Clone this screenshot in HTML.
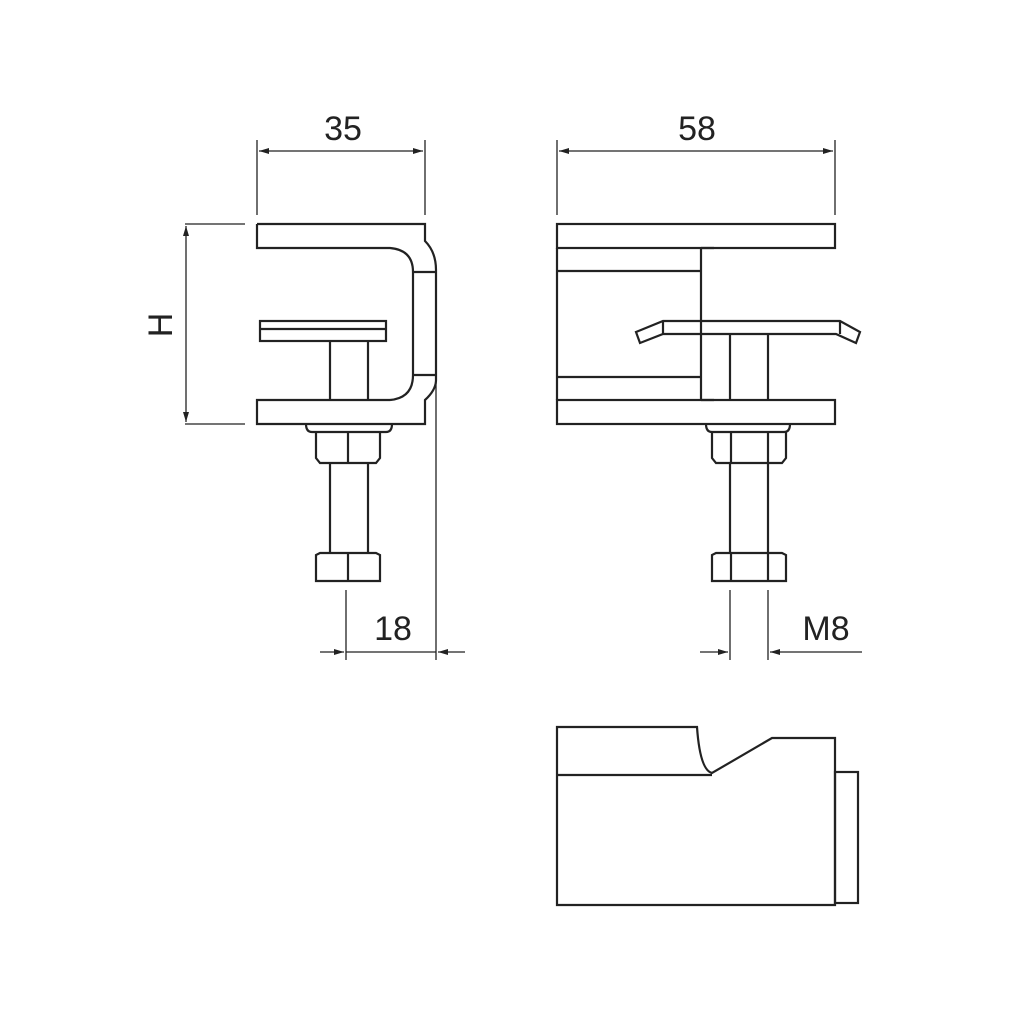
<!DOCTYPE html>
<html><head><style>body{margin:0;background:#fff}svg{display:block}</style></head><body>
<svg width="1010" height="1010" viewBox="0 0 1010 1010" xmlns="http://www.w3.org/2000/svg">
<defs><marker id="a" viewBox="0 0 10 6" refX="10" refY="3" markerWidth="12" markerHeight="6" markerUnits="userSpaceOnUse" orient="auto"><path d="M0,0L10,3L0,6z" fill="#222"/></marker></defs>
<g fill="none" stroke="#222" stroke-width="2.2">
<!-- Left view -->
<path d="M257,224H425V241Q436,252 436,270V380Q436,390 425,400V424H257V400H390"/>
<path d="M257,224V248H390Q413,250 413,272V375Q413,398 390,400"/>
<path d="M413,272H436M413,375H436"/>
<rect x="260" y="321" width="126" height="20"/><path d="M260,329H386"/>
<path d="M330,341V400M368,341V400"/>
<path d="M306,424Q306,432 312,432H386Q392,432 392,424"/>
<path d="M316,432V458L320,463H376L380,458V432M348,432V463"/>
<path d="M330,463V553M368,463V553"/>
<path d="M316,555V581H380V555L376,553H320Z M348,553V581"/>
<!-- Right view -->
<rect x="557" y="224" width="278" height="24"/><rect x="557" y="400" width="278" height="24"/>
<path d="M557,248V400M557,271H701M557,377H701M701,248V400M701,248H714M701,400H714"/>
<path d="M663,321H840L860,332L856,343L836,334H663L640,343L636,332Z M663,321V334M840,321V334"/>
<path d="M730,334V400M768,334V400"/>
<path d="M706,424Q706,432 712,432H784Q790,432 790,424"/>
<path d="M712,432V458L716,463H782L786,458V432M731,432V463M768,432V463"/>
<path d="M730,463V553M768,463V553"/>
<path d="M712,555V581H786V555L782,553H716Z M731,553V581M768,553V581"/>
<!-- Bottom view -->
<path d="M557,727H697Q700,770 712,773L772,738H835V905H557Z"/>
<path d="M557,775H712"/>
<rect x="835" y="772" width="23" height="131"/>
</g>
<g fill="none" stroke="#222" stroke-width="1.3">
<path d="M257,140V215M425,140V215M557,140V215M835,140V215"/>
<path d="M185,224H245M185,424H245"/>
<path d="M436,380V660M346,590V660M730,590V660M768,590V660"/>
<line x1="340" y1="151" x2="259" y2="151" marker-end="url(#a)"/><line x1="340" y1="151" x2="423" y2="151" marker-end="url(#a)"/>
<line x1="700" y1="151" x2="559" y2="151" marker-end="url(#a)"/><line x1="700" y1="151" x2="833" y2="151" marker-end="url(#a)"/>
<line x1="186" y1="320" x2="186" y2="226" marker-end="url(#a)"/><line x1="186" y1="320" x2="186" y2="422" marker-end="url(#a)"/>
<line x1="320" y1="652" x2="344" y2="652" marker-end="url(#a)"/><line x1="465" y1="652" x2="438" y2="652" marker-end="url(#a)"/><path d="M346,652H436"/>
<line x1="700" y1="652" x2="728" y2="652" marker-end="url(#a)"/><line x1="862" y1="652" x2="770" y2="652" marker-end="url(#a)"/>
</g>
<g font-family="Liberation Sans, sans-serif" font-size="34" fill="#222" text-anchor="middle">
<text x="343" y="140">35</text><text x="697" y="140">58</text>
<text x="393" y="640">18</text><text x="826" y="640">M8</text>
<text transform="translate(172,325) rotate(-90)">H</text>
</g>
</svg>
</body></html>
